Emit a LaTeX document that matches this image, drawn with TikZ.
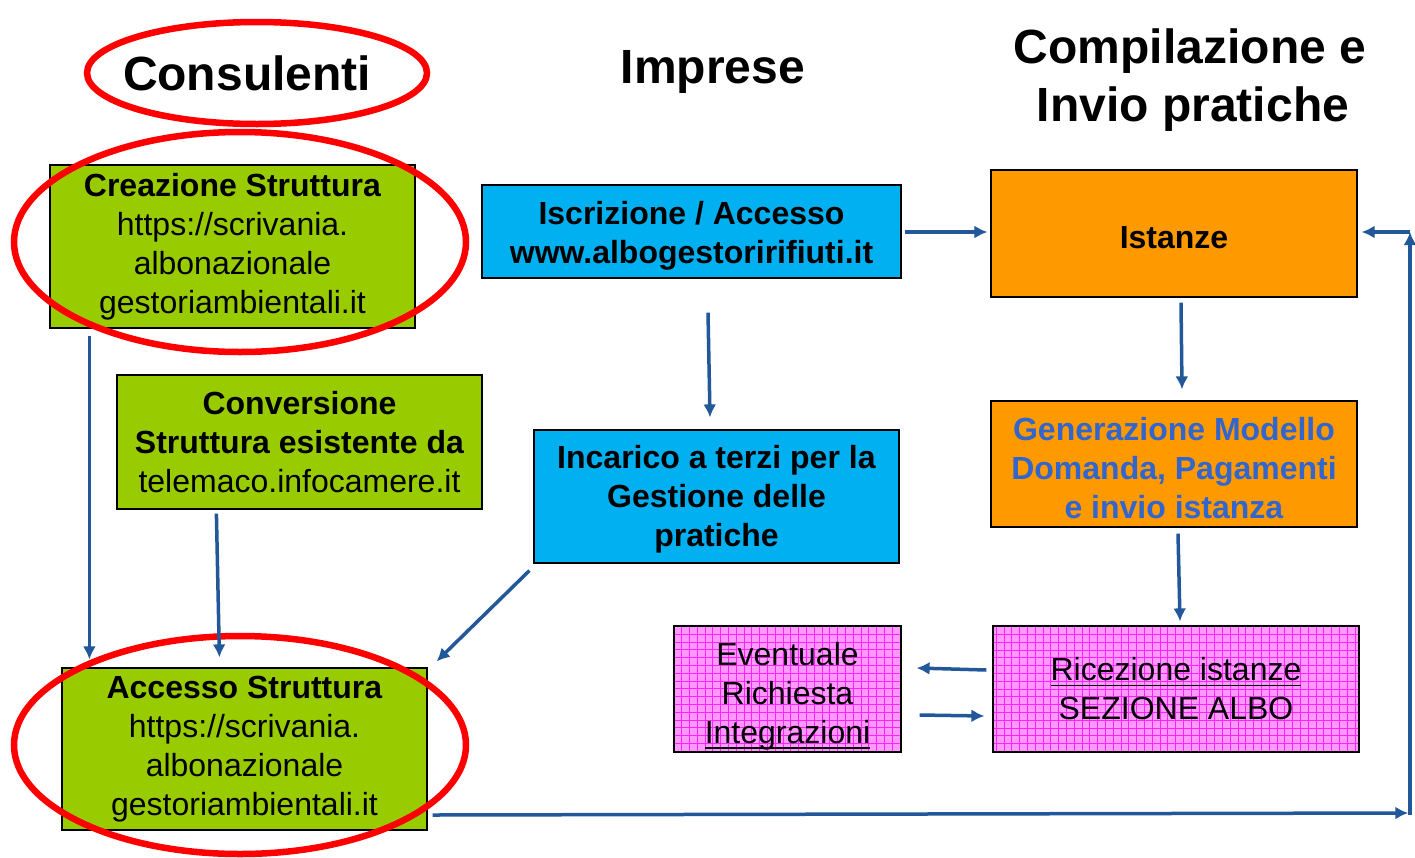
\documentclass[tikz,border=0pt]{standalone}
\usepackage{fontspec}
\setmainfont{Liberation Sans}
\usetikzlibrary{arrows.meta,shapes.geometric}
\definecolor{boxgreen}{HTML}{99CC00}
\definecolor{boxcyan}{HTML}{00B0F0}
\definecolor{boxorange}{HTML}{FF9900}
\definecolor{boxpink}{HTML}{FF99FF}
\definecolor{gridmag}{HTML}{FF22FF}
\definecolor{arrblue}{HTML}{22589A}
\definecolor{txtblue}{HTML}{3366CC}
\definecolor{ellred}{HTML}{FF0000}
\newcommand\lift[1]{\rule{0pt}{#1}}
\newlength\ulw
\newcommand\ulx[1]{\settowidth\ulw{#1}\rlap{\rule[-5.5pt]{\ulw}{1.6pt}}#1}
\begin{document}
\begin{tikzpicture}[x=1pt,y=-1pt,
  box/.style={draw=black, line width=1.2pt, inner sep=0pt, align=center,
    font=\fontsize{32}{39}\selectfont},
  pinkbox/.style={box, fill=boxpink, path picture={
    \draw[gridmag, line width=0.4pt, step=7.8pt]
      (path picture bounding box.south west) grid (path picture bounding box.north east);}},
  head/.style={font=\fontsize{48}{58}\selectfont\bfseries, align=center, inner sep=0pt},
  ring/.style={draw=ellred, line width=6.5pt, ellipse, inner sep=0pt},
  arr/.style={draw=arrblue, line width=3.5pt, -{Latex[length=13pt,width=13pt]}}
]
\useasboundingbox (0,0) rectangle (1415,857);

% headings
\node[head] (hcons) at (247,73) {Consulenti};
\node[head] (himp) at (713,72) {Imprese};
\node[head] (hcomp) at (1190,80) {Compilazione e\\\hspace*{6pt}Invio pratiche};

% boxes
\node[box, fill=boxgreen, minimum width=365pt, minimum height=163pt] (creaz) at (232.5,246.5)
  {\textbf{Creazione Struttura}\\https://scrivania.\\albonazionale\\gestoriambientali.it};
\node[box, fill=boxgreen, minimum width=365pt, minimum height=134pt] (conv) at (299.5,442)
  {\textbf{Conversione}\\\textbf{Struttura esistente da}\\telemaco.infocamere.it};
\node[box, fill=boxgreen, minimum width=365pt, minimum height=162pt] (acc) at (244.5,749)
  {\textbf{Accesso Struttura}\\https://scrivania.\\albonazionale\\gestoriambientali.it};
\node[box, fill=boxcyan, minimum width=419pt, minimum height=93pt] (isc) at (691.5,231.5)
  {\lift{31pt}\textbf{Iscrizione / Accesso}\\\textbf{www.albogestoririfiuti.it}};
\node[box, fill=boxcyan, minimum width=365pt, minimum height=133pt] (inc) at (716.5,496.5)
  {\lift{29pt}\textbf{Incarico a terzi per la}\\\textbf{Gestione delle}\\\textbf{pratiche}};
\node[box, fill=boxorange, minimum width=366pt, minimum height=127pt] (ist) at (1174,233.5)
  {\lift{31pt}\textbf{Istanze}};
\node[box, fill=boxorange, minimum width=366pt, minimum height=126pt, text=txtblue] (gen) at (1174,464)
  {\lift{31pt}\textbf{Generazione Modello}\\\textbf{Domanda, Pagamenti}\\\textbf{e invio istanza}};
\node[pinkbox, minimum width=366pt, minimum height=126pt] (ric) at (1176,689)
  {\ulx{Ricezione istanze}\\SEZIONE ALBO};
\node[pinkbox, minimum width=227pt, minimum height=126pt] (ev) at (787.5,689)
  {\lift{37pt}Eventuale\\Richiesta\\\ulx{Integrazioni}};

% red rings
\node[ring, minimum width=340pt, minimum height=102pt] (r1) at (257,73) {};
\node[ring, minimum width=452pt, minimum height=220pt] (r2) at (240,242) {};
\node[ring, minimum width=452pt, minimum height=218pt] (r3) at (240,745) {};

% connectors
\draw[arr] ([shift={(40,7)}]creaz.south west) -- ([shift={(28,-8)}]acc.north west);
\draw[arr] ([shift={(100,4)}]conv.south west) -- ([shift={(158,-10)}]acc.north west);
\draw[arr] ([shift={(-4,7)}]inc.south west) -- ([shift={(9,-6)}]acc.north east);
\draw[arr] ([shift={(16.5,34)}]isc.south) -- ([shift={(-6.5,-12)}]inc.north);
\draw[arr] ([shift={(3,0.5)}]isc.east) -- ([shift={(-3,-1.5)}]ist.west);
\draw[arr] ([shift={(7,5)}]ist.south) -- ([shift={(8,-11)}]gen.north);
\draw[arr] ([shift={(4,6)}]gen.south) -- ([shift={(4,-4)}]ric.north);
\draw[arr] ([shift={(-6,-19)}]ric.west) -- ([shift={(15,-21)}]ev.east);
\draw[arr] ([shift={(18,26)}]ev.east) -- ([shift={(-8,27)}]ric.west);

\coordinate (c1) at (1410,813);
\coordinate (c2) at (1410,232);
\draw[arr] ([shift={(5,66)}]acc.east) -- ([xshift=-1.75pt]c1);
\draw[arr] ([yshift=-1.75pt]c1) -- (c2);
\draw[arr] (c2) -- ([shift={(4,-1.5)}]ist.east);
\end{tikzpicture}
\end{document}
